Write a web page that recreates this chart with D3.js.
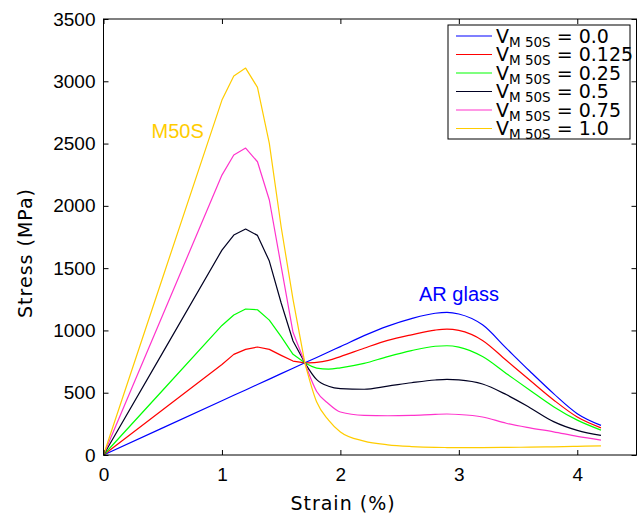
<!DOCTYPE html>
<html>
<head>
<meta charset="utf-8">
<script src="https://cdn.jsdelivr.net/npm/d3@7"></script>
<style>
  body { margin: 0; background: #fff; }
  .tick text { font-family: "Liberation Sans", Arial, sans-serif; font-size: 19px; fill: #000; }
  .tick line { stroke: #000; }
</style>
</head>
<body>
<div id="chart"></div>
<script>
// Strain (%) sample points shared by all series
const strain = [0, 0.5, 1.0, 1.1, 1.2, 1.3, 1.4, 1.5, 1.6, 1.7, 1.8, 1.9, 2.0, 2.2, 2.4, 2.6, 2.8, 2.9, 3.0, 3.2, 3.4, 3.6, 3.8, 4.0, 4.2];

// Stress (MPa) for each M50S volume fraction
const v000 = [0, 218, 435, 479, 522, 566, 609, 653, 696, 740, 783, 827, 870, 958, 1035, 1095, 1138, 1145, 1132, 1045, 858, 672, 493, 332, 238];
const v0125 = [0, 364, 727, 808, 848, 867, 848, 800, 754, 740, 744, 760, 790, 857, 920, 965, 1003, 1011, 1000, 920, 760, 600, 442, 305, 218];
const v025 = [0, 520, 1040, 1124, 1172, 1166, 1083, 950, 808, 740, 698, 690, 700, 735, 790, 838, 873, 877, 866, 790, 655, 520, 388, 280, 200];
const v050 = [0, 822, 1645, 1766, 1814, 1763, 1557, 1220, 915, 740, 605, 552, 533, 528, 553, 580, 602, 607, 603, 570, 485, 380, 268, 198, 158];
const v075 = [0, 1124, 2247, 2408, 2464, 2354, 2047, 1515, 985, 740, 510, 412, 345, 318, 315, 318, 326, 329, 325, 305, 255, 218, 186, 150, 120];
const v100 = [0, 1425, 2849, 3042, 3106, 2951, 2502, 1830, 1250, 740, 425, 280, 185, 112, 82, 68, 61, 60, 59, 60, 61, 63, 66, 70, 73];

const legendValues = ["0.0", "0.125", "0.25", "0.5", "0.75", "1.0"];
const seriesColors = ["#0000ff", "#ff0000", "#00ff00", "#000022", "#ff33cc", "#ffcc00"];
const seriesData = [v000, v0125, v025, v050, v075, v100];

const xTicks = [0, 1, 2, 3, 4];
const yTicks = [0, 500, 1000, 1500, 2000, 2500, 3000, 3500];

// the loading part is drawn as a polyline, the softening part smoothed
const splitStrain = 1.7;

const W = 643, H = 516;
const plot = { left: 103.5, right: 636.5, top: 19, bottom: 455 };

const svg = d3.select("#chart").append("svg")
    .attr("width", W)
    .attr("height", H);

const x = d3.scaleLinear().domain([0, 4.5]).range([plot.left, plot.right]);
const y = d3.scaleLinear().domain([0, 3500]).range([plot.bottom, plot.top]);

const lineLinear = d3.line()
    .x(d => x(d[0]))
    .y(d => y(d[1]));

const lineSmooth = d3.line()
    .x(d => x(d[0]))
    .y(d => y(d[1]))
    .curve(d3.curveMonotoneX);

seriesData.forEach((vals, i) => {
  const pts = strain.map((s, j) => [s, vals[j]]);
  const first = pts.filter(p => p[0] <= splitStrain);
  const second = pts.filter(p => p[0] >= splitStrain);
  const g = svg.append("g")
      .attr("fill", "none")
      .attr("stroke", seriesColors[i])
      .attr("stroke-width", 1.2)
      .attr("stroke-linejoin", "round");
  g.append("path").datum(first).attr("d", lineLinear);
  g.append("path").datum(second).attr("d", lineSmooth);
});

// axes with inward ticks
svg.append("g")
    .attr("transform", `translate(0,${plot.bottom})`)
    .call(d3.axisBottom(x).tickValues(xTicks).tickFormat(d3.format("d")).tickSize(-5).tickSizeOuter(0).tickPadding(13))
    .call(g => g.select(".domain").remove());

svg.append("g")
    .attr("transform", `translate(${plot.left},0)`)
    .call(d3.axisLeft(y).tickValues(yTicks).tickFormat(d3.format("d")).tickSize(-5).tickSizeOuter(0).tickPadding(8))
    .call(g => g.select(".domain").remove());

svg.append("g")
    .attr("transform", `translate(0,${plot.top})`)
    .call(d3.axisTop(x).tickValues(xTicks).tickFormat("").tickSize(-5).tickSizeOuter(0))
    .call(g => g.select(".domain").remove());

svg.append("g")
    .attr("transform", `translate(${plot.right},0)`)
    .call(d3.axisRight(y).tickValues(yTicks).tickFormat("").tickSize(-5).tickSizeOuter(0))
    .call(g => g.select(".domain").remove());

// frame
svg.append("rect")
    .attr("x", plot.left)
    .attr("y", plot.top)
    .attr("width", plot.right - plot.left)
    .attr("height", plot.bottom - plot.top)
    .attr("fill", "none")
    .attr("stroke", "#000")
    .attr("stroke-width", 1);

// axis titles
svg.append("text")
    .attr("x", 343)
    .attr("y", 510)
    .attr("text-anchor", "middle")
    .style("font-family", "'DejaVu Sans', sans-serif")
    .style("font-size", "19px")
    .style("letter-spacing", "1px")
    .text("Strain (%)");

svg.append("text")
    .attr("transform", "translate(32,253) rotate(-90)")
    .attr("text-anchor", "middle")
    .style("font-family", "'DejaVu Sans', sans-serif")
    .style("font-size", "19px")
    .style("letter-spacing", "1px")
    .text("Stress (MPa)");

// annotations
svg.append("text")
    .attr("x", 151.5)
    .attr("y", 138)
    .attr("fill", "#ffcc00")
    .style("font-family", "'Liberation Sans', Arial, sans-serif")
    .style("font-size", "20px")
    .text("M50S");

svg.append("text")
    .attr("x", 419)
    .attr("y", 300.5)
    .attr("fill", "#0000ff")
    .style("font-family", "'Liberation Sans', Arial, sans-serif")
    .style("font-size", "20px")
    .text("AR glass");

// legend
const legend = svg.append("g");
legend.append("rect")
    .attr("x", 448)
    .attr("y", 25)
    .attr("width", 182)
    .attr("height", 114)
    .attr("fill", "#fff")
    .attr("stroke", "#000")
    .attr("stroke-width", 1);

legendValues.forEach((v, i) => {
  const ly = 36 + i * 18.5;
  legend.append("line")
    .attr("x1", 456).attr("x2", 492)
    .attr("y1", ly).attr("y2", ly)
    .attr("stroke", seriesColors[i])
    .attr("stroke-width", 1.2);
  const t = legend.append("text")
    .attr("x", 496)
    .attr("y", ly + 6.5)
    .style("font-family", "'DejaVu Sans', sans-serif")
    .style("font-size", "19px");
  t.append("tspan").text("V");
  t.append("tspan").attr("dy", 4).style("font-size", "13.5px").text("M 50S");
  t.append("tspan").attr("dy", -4).text(" = " + v);
});
</script>
</body>
</html>
